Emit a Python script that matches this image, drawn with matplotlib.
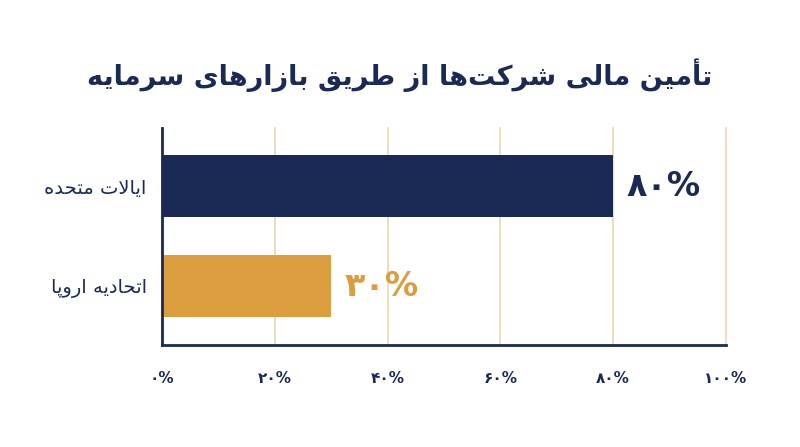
import matplotlib
matplotlib.use('Agg')
import matplotlib.pyplot as plt

# data
title = 'تأمین مالی شرکت\u200cها از طریق بازارهای سرمایه'
regions = ['ایالات متحده', 'اتحادیه اروپا']
shares = [80, 30]
bar_colors = ['#1b2a54', '#dc9d3e']
ticks = [0, 20, 40, 60, 80, 100]

NAVY = '#1b2a54'
GRID = '#ead7b3'

# --- tiny persian shaper (no arabic_reshaper / bidi available) ---
# char: (isolated, final, initial, medial); 2-tuple = joins only to the right
FORMS = {
    'ا': ('\ufe8d', '\ufe8e'), 'أ': ('\ufe83', '\ufe84'),
    'د': ('\ufea9', '\ufeaa'), 'ر': ('\ufead', '\ufeae'),
    'ز': ('\ufeaf', '\ufeb0'), 'و': ('\ufeed', '\ufeee'),
    'ب': ('\ufe8f', '\ufe90', '\ufe91', '\ufe92'),
    'ت': ('\ufe95', '\ufe96', '\ufe97', '\ufe98'),
    'ح': ('\ufea1', '\ufea2', '\ufea3', '\ufea4'),
    'س': ('\ufeb1', '\ufeb2', '\ufeb3', '\ufeb4'),
    'ش': ('\ufeb5', '\ufeb6', '\ufeb7', '\ufeb8'),
    'ط': ('\ufec1', '\ufec2', '\ufec3', '\ufec4'),
    'ق': ('\ufed5', '\ufed6', '\ufed7', '\ufed8'),
    'ل': ('\ufedd', '\ufede', '\ufedf', '\ufee0'),
    'م': ('\ufee1', '\ufee2', '\ufee3', '\ufee4'),
    'ن': ('\ufee5', '\ufee6', '\ufee7', '\ufee8'),
    'ه': ('\ufee9', '\ufeea', '\ufeeb', '\ufeec'),
    'ک': ('\ufb8e', '\ufb8f', '\ufb90', '\ufb91'),
    'پ': ('\ufb56', '\ufb57', '\ufb58', '\ufb59'),
    'ی': ('\ufbfc', '\ufbfd', '\ufbfe', '\ufbff'),
    'LA': ('\ufefb', '\ufefc'),
}


def shape(text):
    chars = []
    i = 0
    while i < len(text):
        if text[i] == 'ل' and i + 1 < len(text) and text[i + 1] == 'ا':
            chars.append('LA')
            i += 2
        else:
            chars.append(text[i])
            i += 1
    out = []
    for k, c in enumerate(chars):
        if c not in FORMS:
            if c != '\u200c':
                out.append(c)
            continue
        f = FORMS[c]
        prev = chars[k - 1] if k > 0 else None
        nxt = chars[k + 1] if k + 1 < len(chars) else None
        j_prev = prev in FORMS and len(FORMS[prev]) == 4
        j_next = len(f) == 4 and nxt in FORMS
        if j_prev and j_next:
            out.append(f[3])
        elif j_next:
            out.append(f[2])
        elif j_prev:
            out.append(f[1])
        else:
            out.append(f[0])
    return ''.join(reversed(out))


def fa_digits(n):
    return str(n).translate(str.maketrans('0123456789', '۰۱۲۳۴۵۶۷۸۹'))


plt.rcParams['font.family'] = ['DejaVu Sans']

fig = plt.figure(figsize=(8, 4.47), dpi=100)
ax = fig.add_axes([0.2025, 0.2282, 0.705, 0.4854])

ypos = list(range(len(regions)))
ax.barh(ypos, shares, height=0.62, color=bar_colors, zorder=3)
ax.set_ylim(1.59, -0.58)
ax.set_xlim(0, 100)

for y, v, c in zip(ypos, shares, bar_colors):
    ax.text(v + 2.4, y, fa_digits(v) + '%', color=c, fontsize=24,
            fontweight='bold', va='center', ha='left', zorder=4)

ax.set_yticks(ypos)
ax.set_yticklabels([shape(r) for r in regions], fontsize=14, color=NAVY)
ax.set_xticks(ticks)
ax.set_xticklabels([fa_digits(t) + '%' for t in ticks], fontsize=11,
                   color=NAVY, fontweight='bold')
ax.tick_params(axis='y', length=0, pad=11)
ax.tick_params(axis='x', length=0, pad=19)

ax.grid(axis='x', color=GRID, linewidth=1.2, zorder=0)
for gl in ax.get_xgridlines():
    gl.set_clip_on(False)
for s in ['top', 'right']:
    ax.spines[s].set_visible(False)
for s in ['left', 'bottom']:
    ax.spines[s].set_color(NAVY)
    ax.spines[s].set_linewidth(2)
    ax.spines[s].set_zorder(5)

fig.text(0.5, 0.832, shape(title), ha='center', va='center', fontsize=19.5,
         fontweight='bold', color=NAVY)

fig.savefig('out.png', dpi=100, facecolor='white')
